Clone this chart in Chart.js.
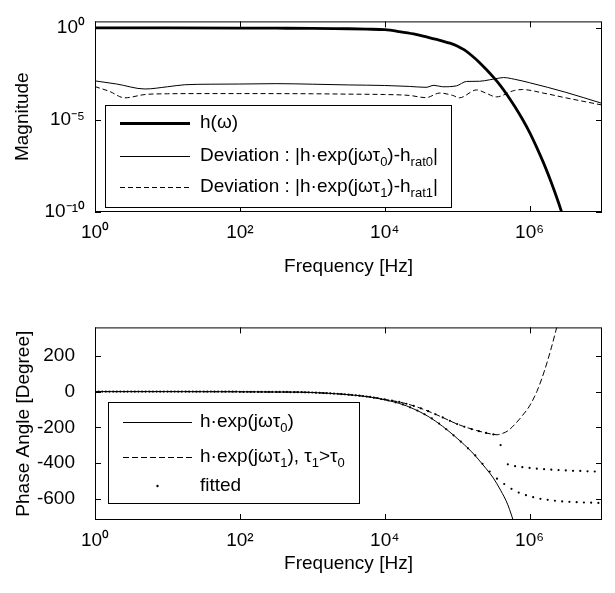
<!DOCTYPE html>
<html>
<head>
<meta charset="utf-8">
<script src="https://cdn.jsdelivr.net/npm/chart.js@4.4.0/dist/chart.umd.min.js"></script>
<style>
  html, body { margin: 0; padding: 0; background: #fff; }
  #wrap { position: relative; width: 615px; height: 593px; }
  canvas { position: absolute; left: 0; }
</style>
</head>
<body>
<div id="wrap">
  <canvas id="mag" width="615" height="296" style="top:0"></canvas>
  <canvas id="phase" width="615" height="297" style="top:296px"></canvas>
</div>
<script>
// values; frequencies kept as log10 exponents
const xTickVals = [1, 1e2, 1e4, 1e6];
const xTickLabels = ['10⁰', '10²', '10⁴', '10⁶'];
const magTickVals = [1e-10, 1e-5, 1];
const magTickLabels = ['10⁻¹⁰', '10⁻⁵', '10⁰'];
const phaseTickVals = [-600, -400, -200, 0, 200];

// |h(w)|, log10 of magnitude
const hExp = [0, 1, 2, 2.5, 3, 3.3, 3.5, 3.75, 4, 4.2, 4.4, 4.6, 4.8, 4.9, 5, 5.1, 5.2, 5.3, 5.4, 5.5, 5.6, 5.7, 5.8, 5.9, 6, 6.1, 6.2, 6.3, 6.4, 6.5];
const hLog = [0, 0, -0.01, -0.02, -0.03, -0.04, -0.05, -0.07, -0.1, -0.2, -0.33, -0.52, -0.72, -0.83, -0.98, -1.2, -1.5, -1.85, -2.25, -2.68, -3.15, -3.7, -4.3, -4.95, -5.67, -6.5, -7.4, -8.4, -9.5, -10.7];

// deviation tau0 (solid)
const dev0Exp = [0, 0.3, 0.69, 1, 1.24, 1.6, 2, 2.5, 3, 3.5, 4, 4.34, 4.57, 4.68, 4.8, 4.99, 5.13, 5.31, 5.45, 5.59, 5.64, 5.79, 6, 6.5, 7];
const dev0Log = [-2.88, -3.05, -3.32, -3.2, -3.09, -3.06, -3.05, -3.03, -3.06, -3.1, -3.13, -3.18, -3.23, -3.12, -3.2, -3.15, -2.91, -2.9, -2.82, -2.72, -2.7, -2.79, -2.98, -3.5, -4.1];

// deviation tau1 (dashed)
const dev1Exp = [0, 0.2, 0.41, 0.69, 1, 1.5, 2, 3, 3.5, 4, 4.34, 4.57, 4.76, 4.94, 5.03, 5.27, 5.4, 5.54, 5.79, 5.9, 6.2, 6.5, 7];
const dev1Log = [-3.19, -3.45, -3.8, -3.62, -3.58, -3.57, -3.57, -3.58, -3.6, -3.62, -3.67, -3.79, -3.54, -3.67, -3.8, -3.37, -3.55, -3.75, -3.4, -3.35, -3.55, -3.8, -4.19];

// phase, degrees
const ph0Exp = [0, 1, 2, 2.4, 2.8, 3, 3.2, 3.4, 3.6, 3.8, 4, 4.2, 4.4, 4.6, 4.8, 5, 5.2, 5.4, 5.5, 5.6, 5.7, 5.8, 5.9];
const ph0 = [0, 0, -1, -2, -3, -5, -9, -14, -21, -31, -46, -66, -97, -139, -195, -262, -338, -432, -485, -553, -635, -755, -880];

const ph1Exp = [0, 1, 2, 2.4, 2.8, 3, 3.2, 3.4, 3.6, 3.8, 4, 4.2, 4.4, 4.6, 4.8, 5, 5.2, 5.4, 5.5, 5.55, 5.6, 5.7, 5.8, 5.9, 6, 6.1, 6.2, 6.3, 6.4];
const ph1 = [0, 0, -1, -2, -3, -5, -9, -14, -21, -30, -44, -58, -80, -110, -145, -182, -210, -232, -240, -242, -238, -220, -182, -135, -80, 0, 110, 245, 400];

// fitted points, first fit (follows the tau1 curve)
const fitAExp = [0, 0.1, 0.2, 0.3, 0.4, 0.5, 0.6, 0.7, 0.8, 0.9, 1, 1.1, 1.2, 1.3, 1.4, 1.5, 1.6, 1.7, 1.8, 1.9,
  2, 2.1, 2.2, 2.3, 2.4, 2.5, 2.6, 2.7, 2.8, 2.9, 3, 3.1, 3.2, 3.3, 3.4, 3.5, 3.6, 3.7, 3.8, 3.9,
  4, 4.1, 4.2, 4.3, 4.4, 4.5, 4.6, 4.7, 4.8, 4.9, 5, 5.1, 5.2, 5.3, 5.4, 5.5, 5.6, 5.7, 5.8, 5.9,
  6, 6.1, 6.2, 6.3, 6.4, 6.5, 6.6, 6.7, 6.8, 6.9, 7];
const fitA = [0, 0, 0, 0, 0, 0, 0, 0, 0, 0, 0, 0, 0, 0, 0, 0, 0, 0, 0, 0,
  -1, -1, -1, -1, -2, -2, -2, -3, -3, -4, -5, -7, -9, -11, -14, -17, -21, -25, -30, -36,
  -44, -50, -58, -68, -80, -94, -110, -127, -145, -164, -182, -197, -210, -222, -232, -240, -300, -408, -418, -424,
  -428, -432, -435, -438, -440, -442, -444, -445, -447, -448, -449];

// fitted points, second fit (follows the tau0 curve)
const fitBExp = [0.05, 0.15, 0.25, 0.35, 0.45, 0.55, 0.65, 0.75, 0.85, 0.95, 1.05, 1.15, 1.25, 1.35, 1.45, 1.55, 1.65, 1.75, 1.85, 1.95,
  2.05, 2.15, 2.25, 2.35, 2.45, 2.55, 2.65, 2.75, 2.85, 2.95, 3.05, 3.15, 3.25, 3.35, 3.45, 3.55, 3.65, 3.75, 3.85, 3.95,
  4.05, 4.15, 4.25, 4.35, 4.45, 4.55, 4.65, 4.75, 4.85, 4.95, 5.05, 5.15, 5.25, 5.35, 5.45, 5.55, 5.65, 5.75, 5.85, 5.95,
  6.05, 6.15, 6.25, 6.35, 6.45, 6.55, 6.65, 6.75, 6.85, 6.95];
const fitB = [0, 0, 0, 0, 0, 0, 0, 0, 0, 0, 0, 0, 0, 0, 0, 0, 0, 0, 0, 0,
  -1, -1, -1, -2, -2, -2, -2, -3, -3, -4, -6, -8, -10, -12, -15, -19, -23, -28, -34, -42,
  -50, -60, -72, -88, -106, -127, -150, -179, -211, -245, -280, -318, -358, -405, -448, -488, -518, -545, -566, -581,
  -592, -601, -607, -612, -616, -618, -620, -622, -623, -624];

const magLegend = [
  ['h(ω)'],
  ['Deviation : |h·exp(jωτ', '0', ')-h', 'rat0', '|'],
  ['Deviation : |h·exp(jωτ', '1', ')-h', 'rat1', '|']
];
const phaseLegend = [
  ['h·exp(jωτ', '0', ')'],
  ['h·exp(jωτ', '1', '), τ', '1', '>τ', '0'],
  ['fitted']
];

const FONT = "'Liberation Sans', Arial, sans-serif";
const FS = 19;

function pts(ex, ys, isLog) {
  return ex.map((e, i) => ({ x: Math.pow(10, e), y: isLog ? Math.pow(10, ys[i]) : ys[i] }));
}

// box + inward ticks on all four sides, like matlab axes
const framePlugin = {
  id: 'frame',
  afterDatasetsDraw(chart) {
    const { ctx, chartArea: a, scales } = chart;
    const tl = 6;
    ctx.save();
    ctx.strokeStyle = '#000';
    ctx.lineWidth = 1;
    ctx.beginPath();
    scales.x.ticks.forEach(t => {
      const px = Math.round(scales.x.getPixelForValue(t.value)) + 0.5;
      ctx.moveTo(px, a.bottom); ctx.lineTo(px, a.bottom - tl);
      ctx.moveTo(px, a.top); ctx.lineTo(px, a.top + tl);
    });
    scales.y.ticks.forEach(t => {
      const py = Math.round(scales.y.getPixelForValue(t.value)) + 0.5;
      ctx.moveTo(a.left, py); ctx.lineTo(a.left + tl, py);
      ctx.moveTo(a.right, py); ctx.lineTo(a.right - tl, py);
    });
    ctx.stroke();
    ctx.strokeRect(a.left + 0.5, a.top + 0.5, a.right - a.left - 1, a.bottom - a.top - 1);
    ctx.restore();
  }
};

function drawRich(ctx, segs, x, y) {
  segs.forEach((s, i) => {
    const sub = i % 2 === 1;
    ctx.font = (sub ? 13 : FS) + 'px ' + FONT;
    ctx.fillText(s, x, sub ? y + 6 : y);
    x += ctx.measureText(s).width;
  });
}

// legend inside the plot, with a framed white box
const boxLegend = {
  id: 'boxLegend',
  afterDraw(chart, args, opts) {
    const ctx = chart.ctx;
    const b = opts.box;
    ctx.save();
    ctx.fillStyle = '#fff';
    ctx.fillRect(b[0], b[1], b[2], b[3]);
    ctx.strokeStyle = '#000';
    ctx.lineWidth = 1;
    ctx.strokeRect(b[0] + 0.5, b[1] + 0.5, b[2], b[3]);
    ctx.fillStyle = '#000';
    ctx.textBaseline = 'middle';
    opts.texts.forEach((segs, i) => {
      const ds = chart.data.datasets[opts.sets[i]];
      const y = opts.rowsY[i];
      if (ds.showLine === false) {
        ctx.beginPath();
        ctx.arc((opts.lineX[0] + opts.lineX[1]) / 2, y, 1.2, 0, Math.PI * 2);
        ctx.fill();
      } else {
        ctx.setLineDash(ds.borderDash || []);
        ctx.lineWidth = ds.borderWidth;
        ctx.beginPath();
        ctx.moveTo(opts.lineX[0], y + 0.5);
        ctx.lineTo(opts.lineX[1], y + 0.5);
        ctx.stroke();
        ctx.setLineDash([]);
      }
      drawRich(ctx, segs, opts.textX, y);
    });
    ctx.restore();
  }
};

const xAxis = (height, titlePad) => ({
  type: 'logarithmic',
  min: 1,
  max: 1e7,
  grid: { display: false, drawTicks: false },
  border: { display: false },
  afterBuildTicks: s => { s.ticks = xTickVals.map(v => ({ value: v })); },
  afterFit: s => { s.height = height; },
  ticks: {
    autoSkip: false, maxRotation: 0, padding: 9, color: '#000',
    font: { family: FONT, size: FS },
    callback: (v, i) => xTickLabels[i]
  },
  title: {
    display: true, text: 'Frequency [Hz]', color: '#000',
    font: { family: FONT, size: FS }, padding: { top: 0, bottom: titlePad }
  }
});

const lineBase = { pointRadius: 0, fill: false, borderColor: '#000', cubicInterpolationMode: 'monotone' };

new Chart(document.getElementById('mag'), {
  type: 'line',
  data: {
    datasets: [
      { ...lineBase, label: 'h(ω)', data: pts(hExp, hLog, true), borderWidth: 2.8 },
      { ...lineBase, label: 'dev0', data: pts(dev0Exp, dev0Log, true), borderWidth: 1 },
      { ...lineBase, label: 'dev1', data: pts(dev1Exp, dev1Log, true), borderWidth: 1, borderDash: [5, 3] }
    ]
  },
  options: {
    responsive: false,
    animation: false,
    devicePixelRatio: 1,
    layout: { padding: { top: 15, right: 13, left: 0, bottom: 0 } },
    plugins: {
      legend: { display: false },
      tooltip: { enabled: false },
      boxLegend: {
        box: [105, 105, 346, 102],
        rowsY: [123, 156, 187],
        lineX: [120, 190],
        textX: 200,
        sets: [0, 1, 2],
        texts: magLegend
      }
    },
    scales: {
      x: xAxis(84, 18),
      y: {
        type: 'logarithmic',
        min: 1e-10,
        max: 2.24,
        grid: { display: false, drawTicks: false },
        border: { display: false },
        afterBuildTicks: s => { s.ticks = magTickVals.map(v => ({ value: v })); },
        afterFit: s => { s.width = 95; },
        ticks: {
          autoSkip: false, padding: 10, color: '#000',
          font: { family: FONT, size: FS },
          callback: (v, i) => magTickLabels[i]
        },
        title: {
          display: true, text: 'Magnitude', color: '#000',
          font: { family: FONT, size: FS }, padding: { top: 11, bottom: 0 }
        }
      }
    }
  },
  plugins: [framePlugin, boxLegend]
});

new Chart(document.getElementById('phase'), {
  type: 'line',
  data: {
    datasets: [
      { ...lineBase, label: 'h·exp(jωτ0)', data: pts(ph0Exp, ph0, false), borderWidth: 1 },
      { ...lineBase, label: 'h·exp(jωτ1)', data: pts(ph1Exp, ph1, false), borderWidth: 1, borderDash: [6, 3] },
      { label: 'fitted', data: pts(fitAExp, fitA, false), showLine: false, pointRadius: 1.1,
        pointBackgroundColor: '#000', pointBorderWidth: 0 },
      { label: 'fitted', data: pts(fitBExp, fitB, false), showLine: false, pointRadius: 1.1,
        pointBackgroundColor: '#000', pointBorderWidth: 0 }
    ]
  },
  options: {
    responsive: false,
    animation: false,
    devicePixelRatio: 1,
    layout: { padding: { top: 13, right: 13, left: 0, bottom: 0 } },
    plugins: {
      legend: { display: false },
      tooltip: { enabled: false },
      boxLegend: {
        box: [108, 106, 251, 101],
        rowsY: [126, 161, 190],
        lineX: [123, 192],
        textX: 200,
        sets: [0, 1, 2],
        texts: phaseLegend
      }
    },
    scales: {
      x: xAxis(73, 18),
      y: {
        type: 'linear',
        min: -720,
        max: 360,
        grid: { display: false, drawTicks: false },
        border: { display: false },
        afterBuildTicks: s => { s.ticks = phaseTickVals.map(v => ({ value: v })); },
        afterFit: s => { s.width = 95; },
        ticks: {
          autoSkip: false, padding: 20, color: '#000',
          font: { family: FONT, size: FS },
          callback: v => String(v)
        },
        title: {
          display: true, text: 'Phase Angle [Degree]', color: '#000',
          font: { family: FONT, size: FS }, padding: { top: 12, bottom: 0 }
        }
      }
    }
  },
  plugins: [framePlugin, boxLegend]
});
</script>
</body>
</html>
